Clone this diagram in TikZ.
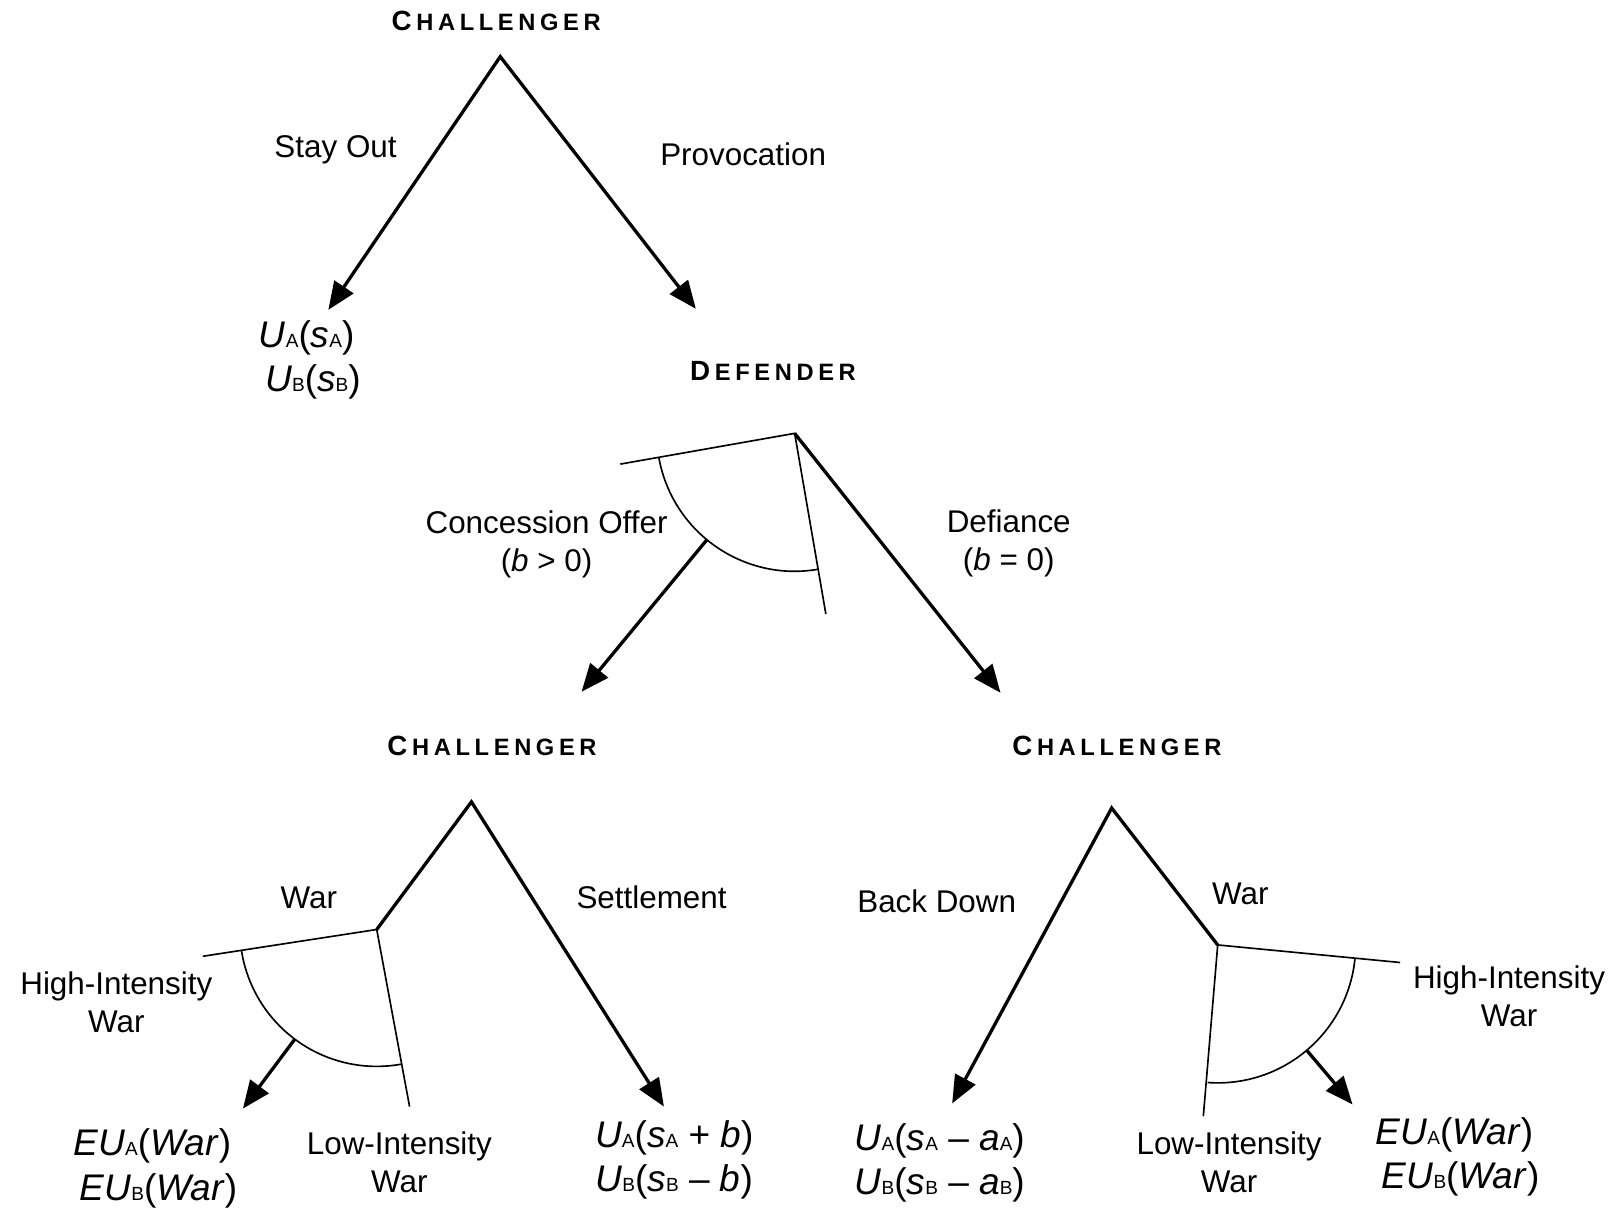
\documentclass[tikz,border=0pt]{standalone}
\usepackage{fontspec}
\setmainfont{Liberation Sans}
\usetikzlibrary{arrows.meta,calc}
\newcommand{\lsub}[1]{{\fontsize{18.5}{18.5}\selectfont\upshape #1}}
\newcommand{\ls}{\kern4.5pt}
\newcommand{\pname}[2]{{\bfseries\fontsize{27}{30}\selectfont #1}\ls{\bfseries\fontsize{23}{26}\selectfont #2}}
\begin{document}
\begin{tikzpicture}[x=1pt,y=-1pt,
  thickline/.style={line width=3.2pt},
  thinline/.style={line width=1.6pt},
  arr/.style={thickline,-{Triangle[length=27pt,width=22pt]}},
  lbl/.style={font=\fontsize{30.5}{37}\selectfont, align=center, inner sep=0pt},
  pay/.style={font=\fontsize{36}{43}\selectfont, align=center, inner sep=0pt},
  player/.style={inner sep=0pt}
]
\useasboundingbox[fill=white] (0,0) rectangle (1568,1176);

% ---------- top: challenger ----------
\node[player] (pA) at (482,20) {\pname{C}{H\ls A\ls L\ls L\ls E\ls N\ls G\ls E\ls R}};
\coordinate (A) at (486,55);
\coordinate (soT) at (319,301);
\coordinate (prT) at (676,300);
\draw[thickline,{Triangle[length=27pt,width=22pt]}-{Triangle[length=27pt,width=22pt]}] (soT) -- (A) -- (prT);
\node[lbl] (lso) at (326,146) {Stay Out};
\node[lbl] (lpr) at (722,150) {Provocation};
\node[pay] (payso) at (298,350) {\textit{U}\lsub{A}(\textit{s}\lsub{A})\\\kern12pt\textit{U}\lsub{B}(\textit{s}\lsub{B})};

% ---------- defender ----------
\node[player] (pB) at (751,360) {\pname{D}{E\ls F\ls E\ls N\ls D\ls E\ls R}};
\coordinate (B) at (772,421);
\coordinate (Bl) at ($(B)+(170:172)$);
\coordinate (Br) at ($(B)+(80.2:178)$);
\draw[thinline] (Bl) -- (B) -- (Br);
\draw[thinline] ($(B)+(170:134)$) arc[start angle=170, end angle=80.5, radius=134];
\coordinate (coT) at (565,672);
\coordinate (coS) at ($(B)!134pt!(coT)$);
\draw[arr] (coS) -- (coT);
\coordinate (deT) at (972,673);
\draw[arr] (B) -- (deT);
\node[lbl] (lco) at (531,529) {Concession Offer\\(\textit{b} > 0)};
\node[lbl] (lde) at (980,528) {Defiance\\(\textit{b} = 0)};

% ---------- lower left: challenger ----------
\node[player] (pC) at (478,725) {\pname{C}{H\ls A\ls L\ls L\ls E\ls N\ls G\ls E\ls R}};
\coordinate (C) at (458,779);
\coordinate (C2) at (366,903);
\coordinate (seT) at (645,1075);
\draw[thickline,-{Triangle[length=27pt,width=22pt]}] (C2) -- (C) -- (seT);
\coordinate (C2l) at ($(C2)+(171.25:171)$);
\coordinate (C2r) at ($(C2)+(79.5:175)$);
\draw[thinline] (C2l) -- (C2) -- (C2r);
\draw[thinline] ($(C2)+(171.25:133)$) arc[start angle=171.25, end angle=79.5, radius=133];
\coordinate (hiT) at (236,1077);
\coordinate (hiS) at ($(C2)!133pt!(hiT)$);
\draw[arr] (hiS) -- (hiT);
\node[lbl] (lwarL) at (300,872) {War};
\node[lbl] (lset) at (633,872) {Settlement};
\node[lbl] (lhiL) at (113,974) {High-Intensity\\War};
\node[lbl] (lloL) at (388,1129) {Low-Intensity\\War};
\node[pay] (payhiL) at (148,1135) {\textit{EU}\lsub{A}(\textit{War})\\\kern12pt\textit{EU}\lsub{B}(\textit{War})};
\node[pay] (payset) at (655,1127) {\textit{U}\lsub{A}(\textit{s}\lsub{A} + \textit{b})\\\textit{U}\lsub{B}(\textit{s}\lsub{B} \textendash\ \textit{b})};

% ---------- lower right: challenger ----------
\node[player] (pD) at (1085,725) {\pname{C}{H\ls A\ls L\ls L\ls E\ls N\ls G\ls E\ls R}};
\coordinate (D) at (1080,785);
\coordinate (D2) at (1183,918);
\coordinate (bdT) at (925,1072);
\draw[thickline,{Triangle[length=27pt,width=22pt]}-] (bdT) -- (D) -- (D2);
\coordinate (D2r) at ($(D2)+(5.5:178)$);
\coordinate (D2d) at ($(D2)+(94.8:167)$);
\draw[thinline] (D2r) -- (D2) -- (D2d);
\draw[thinline] ($(D2)+(5.5:134)$) arc[start angle=5.5, end angle=94.2, radius=134];
\coordinate (ewT) at (1314,1073);
\coordinate (ewS) at ($(D2)!134pt!(ewT)$);
\draw[arr] (ewS) -- (ewT);
\node[lbl] (lbd) at (910,876) {Back Down};
\node[lbl] (lwarR) at (1205,868) {War};
\node[lbl] (lhiR) at (1466,968) {High-Intensity\\War};
\node[lbl] (lloR) at (1194,1129) {Low-Intensity\\War};
\node[pay] (paybd) at (913,1130) {\textit{U}\lsub{A}(\textit{s}\lsub{A} \textendash\ \textit{a}\lsub{A})\\\textit{U}\lsub{B}(\textit{s}\lsub{B} \textendash\ \textit{a}\lsub{B})};
\node[pay] (payhiR) at (1413,1124) {\textit{EU}\lsub{A}(\textit{War})\\\kern12pt\textit{EU}\lsub{B}(\textit{War})};
\end{tikzpicture}
\end{document}
